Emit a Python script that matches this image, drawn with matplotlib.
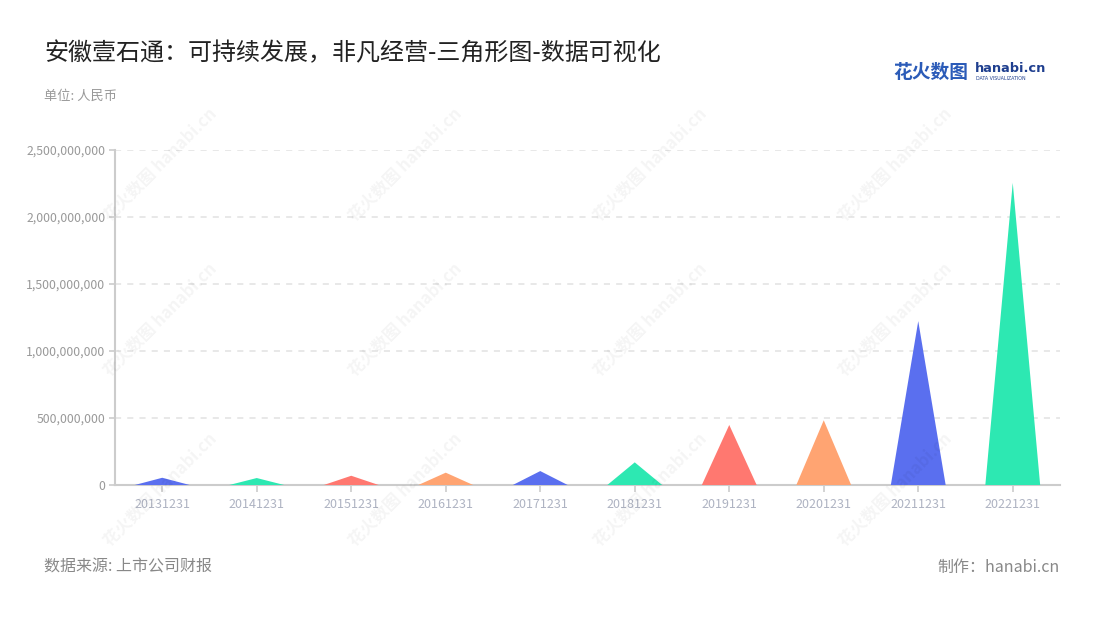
import matplotlib
matplotlib.use("Agg")
import matplotlib.pyplot as plt
from matplotlib.ticker import FuncFormatter, MultipleLocator

plt.rcParams['font.family'] = ['Noto Sans CJK SC', 'DejaVu Sans']

categories = ["20131231", "20141231", "20151231", "20161231", "20171231",
              "20181231", "20191231", "20201231", "20211231", "20221231"]
values = [54e6, 52e6, 69e6, 92e6, 104e6, 169e6, 448e6, 483e6, 1223e6, 2255e6]
palette = ["#5A6FEF", "#2DE8B2", "#FF7870", "#FFA472"]

title = "安徽壹石通：可持续发展，非凡经营-三角形图-数据可视化"
subtitle = "单位: 人民币"
source = "数据来源: 上市公司财报"
maker = "制作：hanabi.cn"

W, H = 1100, 620
fig = plt.figure(figsize=(W / 100, H / 100), dpi=100)
fig.patch.set_facecolor("white")

# watermarks
for row, yy in enumerate([165, 320, 490]):
    for xx in [160, 405, 650, 895]:
        fig.text(xx / W, 1 - yy / H, "花火数图 hanabi.cn", rotation=45,
                 fontsize=12, color="#000000", alpha=0.045, ha="center", va="center",
                 fontweight="bold", zorder=0)

ax = fig.add_axes([115 / W, 135 / H, 945 / W, 335 / H])
ax.set_facecolor("none")
bw = 0.58
for i, v in enumerate(values):
    ax.fill([i - bw / 2, i, i + bw / 2], [0, v, 0], color=palette[i % 4],
            linewidth=0, zorder=3)

ax.set_xlim(-0.5, len(categories) - 0.5)
ax.set_ylim(0, 2.5e9)
ax.yaxis.set_major_locator(MultipleLocator(5e8))
ax.yaxis.set_major_formatter(FuncFormatter(lambda v, p: f"{int(round(v)):,}"))
ax.set_xticks(range(len(categories)))
ax.set_xticklabels(categories)

for y in [5e8, 1e9, 1.5e9, 2e9, 2.5e9]:
    ax.axhline(y, color="#E2E2E2", lw=1.1, ls=(0, (4, 4)), zorder=1)

for s in ["top", "right"]:
    ax.spines[s].set_visible(False)
for s in ["left", "bottom"]:
    ax.spines[s].set_color("#CCCCCC")
    ax.spines[s].set_linewidth(1.5)
ax.tick_params(axis="y", length=4, width=1.2, color="#CCCCCC", labelcolor="#999999",
               labelsize=8.8, pad=3)
ax.tick_params(axis="x", length=5, width=1.2, color="#CCCCCC", labelcolor="#AEB3C2",
               labelsize=9, pad=4)

fig.text(44 / W, 1 - 53 / H, title, fontsize=17.3, color="#222222", ha="left", va="center")
fig.text(44 / W, 1 - 96 / H, subtitle, fontsize=9.5, color="#999999", ha="left", va="center")
fig.text(44 / W, 1 - 567 / H, source, fontsize=11.5, color="#888888", ha="left", va="center")
fig.text(1060 / W, 1 - 567 / H, maker, fontsize=11.5, color="#888888", ha="right", va="center")

# logo
fig.text(893 / W, 1 - 72 / H, "花火数图", fontsize=13.5, color="#2B5BB8", fontweight="bold",
         ha="left", va="center")
fig.text(975 / W, 1 - 69 / H, "hanabi.cn", fontsize=9.3, color="#1F3F8F", fontweight="bold",
         ha="left", va="center", family=["DejaVu Sans"])
fig.text(976 / W, 1 - 79 / H, "DATA VISUALIZATION", fontsize=3.4, color="#1F3F8F",
         ha="left", va="center", family=["DejaVu Sans"])

fig.savefig("out.png", dpi=100, facecolor="white")
